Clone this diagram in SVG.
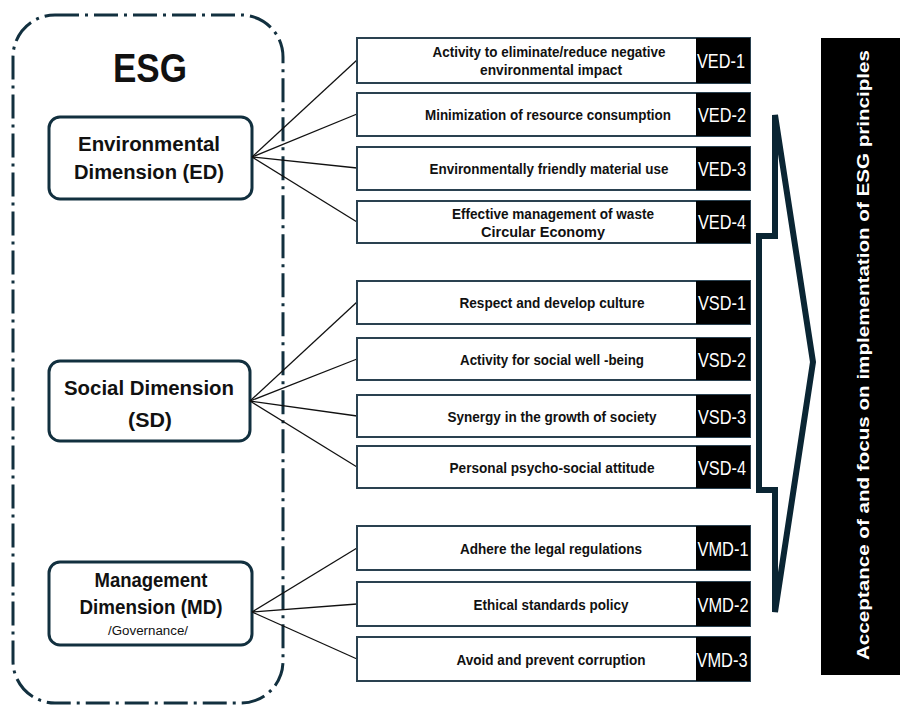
<svg xmlns="http://www.w3.org/2000/svg" width="900" height="706" viewBox="0 0 900 706">
<style>
text{font-family:"Liberation Sans",Arial,sans-serif}
.frame{fill:none;stroke:#12303f;stroke-width:3;stroke-dasharray:24 6 3 6}
.dim{fill:#fff;stroke:#12303f;stroke-width:3}
.dt{font-weight:bold;font-size:20px;fill:#111;text-anchor:middle}
.box{fill:#fff;stroke:#2a4150;stroke-width:2}
.tag{fill:#000}
.bt{font-weight:bold;font-size:15.5px;fill:#111;text-anchor:middle}
.lt{font-size:21px;fill:#fff;text-anchor:middle}
.conn line{stroke:#111;stroke-width:1.3}
</style>
<rect class="frame" x="13" y="15" width="270" height="688" rx="42"/>
<text x="150" y="82" font-weight="bold" font-size="40" text-anchor="middle" fill="#111" textLength="74" lengthAdjust="spacingAndGlyphs">ESG</text>

<g id="ED">
<rect class="dim" x="49" y="117" width="203" height="82" rx="11"/>
<text class="dt" x="149" y="151" textLength="142" lengthAdjust="spacingAndGlyphs">Environmental</text>
<text class="dt" x="149" y="179" textLength="150" lengthAdjust="spacingAndGlyphs">Dimension (ED)</text>
</g>
<g id="SD">
<rect class="dim" x="49" y="361" width="201" height="80" rx="11"/>
<text class="dt" x="149" y="395" textLength="170" lengthAdjust="spacingAndGlyphs">Social Dimension</text>
<text class="dt" x="150" y="427" textLength="44" lengthAdjust="spacingAndGlyphs">(SD)</text>
</g>
<g id="MD">
<rect class="dim" x="49" y="562" width="203" height="83" rx="11"/>
<text class="dt" x="151" y="587" textLength="113" lengthAdjust="spacingAndGlyphs">Management</text>
<text class="dt" x="151" y="614" textLength="143" lengthAdjust="spacingAndGlyphs">Dimension (MD)</text>
<text x="148" y="635" font-size="12" text-anchor="middle" fill="#111" textLength="80" lengthAdjust="spacingAndGlyphs">/Governance/</text>
</g>

<g class="conn">
<line x1="252" y1="157" x2="357" y2="60"/>
<line x1="252" y1="157" x2="357" y2="114"/>
<line x1="252" y1="157" x2="357" y2="168"/>
<line x1="252" y1="157" x2="357" y2="222"/>
<line x1="250" y1="401" x2="357" y2="302"/>
<line x1="250" y1="401" x2="357" y2="359"/>
<line x1="250" y1="401" x2="357" y2="416"/>
<line x1="250" y1="401" x2="357" y2="467"/>
<line x1="252" y1="612" x2="357" y2="548"/>
<line x1="252" y1="612" x2="357" y2="604"/>
<line x1="252" y1="612" x2="357" y2="659"/>
</g>

<g id="VED-1"><rect class="box" x="357" y="38" width="393" height="45"/><rect class="tag" x="696" y="38" width="54" height="45"/>
<text class="bt" x="549" y="57" textLength="233" lengthAdjust="spacingAndGlyphs">Activity to eliminate/reduce negative</text><text class="bt" x="551" y="75" textLength="142" lengthAdjust="spacingAndGlyphs">environmental impact</text><text class="lt" x="721" y="68" textLength="48" lengthAdjust="spacingAndGlyphs">VED-1</text></g>
<g id="VED-2"><rect class="box" x="357" y="93" width="393" height="43"/><rect class="tag" x="696" y="93" width="54" height="43"/>
<text class="bt" x="548" y="120" style="font-size:14.5px" textLength="246" lengthAdjust="spacingAndGlyphs">Minimization of resource consumption</text><text class="lt" x="722" y="122" textLength="48" lengthAdjust="spacingAndGlyphs">VED-2</text></g>
<g id="VED-3"><rect class="box" x="357" y="147" width="393" height="43"/><rect class="tag" x="696" y="147" width="54" height="43"/>
<text class="bt" x="549" y="174" textLength="239" lengthAdjust="spacingAndGlyphs">Environmentally friendly material use</text><text class="lt" x="722" y="176" textLength="48" lengthAdjust="spacingAndGlyphs">VED-3</text></g>
<g id="VED-4"><rect class="box" x="357" y="201" width="393" height="42"/><rect class="tag" x="696" y="201" width="54" height="42"/>
<text class="bt" x="553" y="219" textLength="202" lengthAdjust="spacingAndGlyphs">Effective management of waste</text><text class="bt" x="543" y="237" textLength="124" lengthAdjust="spacingAndGlyphs">Circular Economy</text><text class="lt" x="722" y="229" textLength="48" lengthAdjust="spacingAndGlyphs">VED-4</text></g>

<g id="VSD-1"><rect class="box" x="357" y="281" width="393" height="43"/><rect class="tag" x="696" y="281" width="54" height="43"/>
<text class="bt" x="552" y="308" textLength="185" lengthAdjust="spacingAndGlyphs">Respect and develop culture</text><text class="lt" x="722" y="310" textLength="48" lengthAdjust="spacingAndGlyphs">VSD-1</text></g>
<g id="VSD-2"><rect class="box" x="357" y="338" width="393" height="42"/><rect class="tag" x="696" y="338" width="54" height="42"/>
<text class="bt" x="552" y="365" textLength="184" lengthAdjust="spacingAndGlyphs">Activity for social well -being</text><text class="lt" x="722" y="367" textLength="48" lengthAdjust="spacingAndGlyphs">VSD-2</text></g>
<g id="VSD-3"><rect class="box" x="357" y="395" width="393" height="42"/><rect class="tag" x="696" y="395" width="54" height="42"/>
<text class="bt" x="552" y="422" textLength="209" lengthAdjust="spacingAndGlyphs">Synergy in the growth of society</text><text class="lt" x="722" y="424" textLength="48" lengthAdjust="spacingAndGlyphs">VSD-3</text></g>
<g id="VSD-4"><rect class="box" x="357" y="446" width="393" height="42"/><rect class="tag" x="696" y="446" width="54" height="42"/>
<text class="bt" x="552" y="473" textLength="205" lengthAdjust="spacingAndGlyphs">Personal psycho-social attitude</text><text class="lt" x="722" y="475" textLength="48" lengthAdjust="spacingAndGlyphs">VSD-4</text></g>

<g id="VMD-1"><rect class="box" x="357" y="526" width="393" height="44"/><rect class="tag" x="696" y="526" width="54" height="44"/>
<text class="bt" x="551" y="554" textLength="182" lengthAdjust="spacingAndGlyphs">Adhere the legal regulations</text><text class="lt" x="723" y="556" textLength="51" lengthAdjust="spacingAndGlyphs">VMD-1</text></g>
<g id="VMD-2"><rect class="box" x="357" y="582" width="393" height="44"/><rect class="tag" x="696" y="582" width="54" height="44"/>
<text class="bt" x="551" y="610" textLength="155" lengthAdjust="spacingAndGlyphs">Ethical standards policy</text><text class="lt" x="723" y="612" textLength="51" lengthAdjust="spacingAndGlyphs">VMD-2</text></g>
<g id="VMD-3"><rect class="box" x="357" y="637" width="393" height="44"/><rect class="tag" x="696" y="637" width="54" height="44"/>
<text class="bt" x="551" y="665" textLength="189" lengthAdjust="spacingAndGlyphs">Avoid and prevent corruption</text><text class="lt" x="722" y="667" textLength="51" lengthAdjust="spacingAndGlyphs">VMD-3</text></g>

<g id="arrow">
<polygon points="775,115 813,362 775,612 775,490 759,490 759,236 775,236" fill="none" stroke="#0a2533" stroke-width="6" stroke-linejoin="miter"/>
</g>

<g id="result">
<rect x="821" y="38" width="79" height="637" fill="#000"/>
<text transform="translate(869,355) rotate(-90)" font-weight="bold" font-size="17" fill="#fff" text-anchor="middle" textLength="610" lengthAdjust="spacingAndGlyphs">Acceptance of and focus on implementation of ESG principles</text>
</g>
</svg>
